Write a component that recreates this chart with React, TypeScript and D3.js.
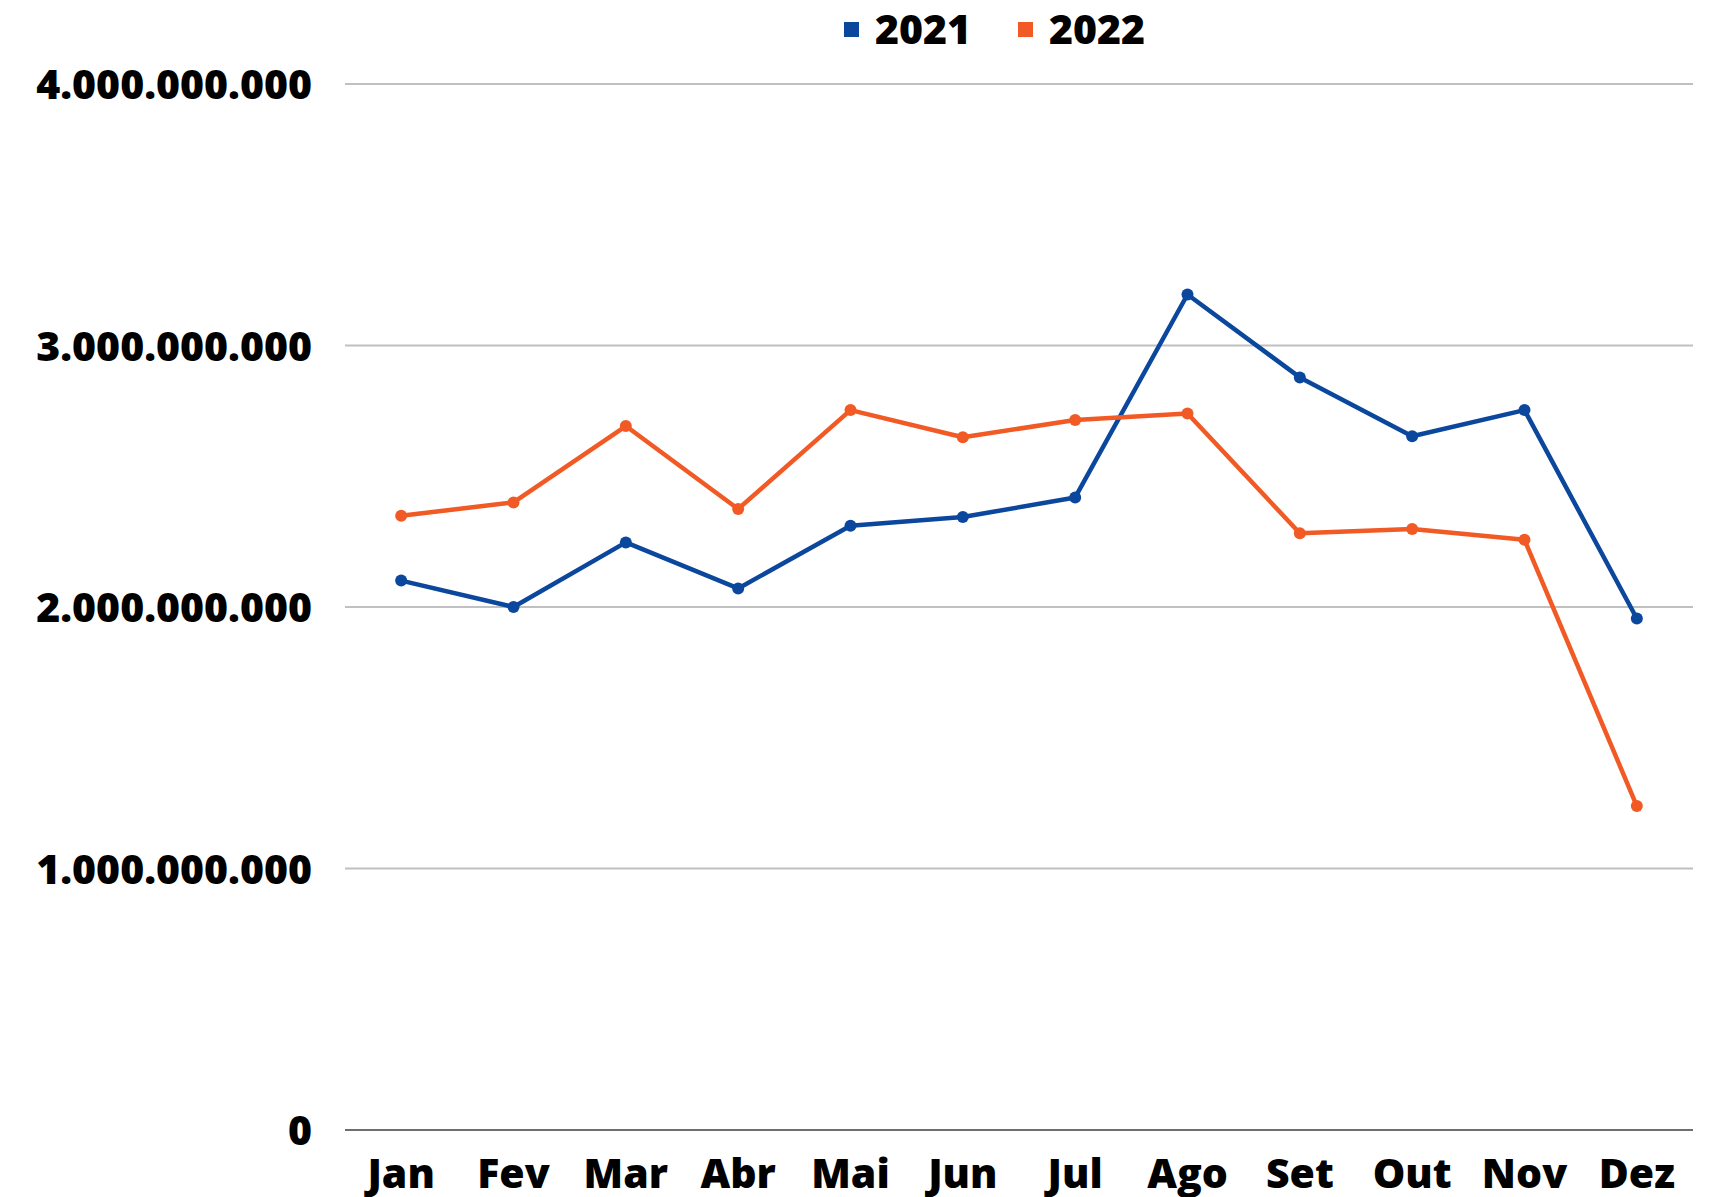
import { useEffect, useRef } from 'react';
import * as d3 from 'd3';

const WIDTH = 1710;
const HEIGHT = 1197;

const months = ['Jan', 'Fev', 'Mar', 'Abr', 'Mai', 'Jun', 'Jul', 'Ago', 'Set', 'Out', 'Nov', 'Dez'];
const values2021 = [2.101, 2.0, 2.247, 2.071, 2.311, 2.344, 2.419, 3.195, 2.878, 2.653, 2.753, 1.956].map((v) => v * 1e9);
const values2022 = [2.349, 2.4, 2.692, 2.375, 2.753, 2.649, 2.715, 2.74, 2.282, 2.298, 2.257, 1.239].map((v) => v * 1e9);
const yTicks = [0, 1e9, 2e9, 3e9, 4e9];

const series = [
  { name: '2021', values: values2021, color: '#0B479D' },
  { name: '2022', values: values2022, color: '#F15A24' },
];

const FONT = '"Open Sans", "Noto Sans", sans-serif';

export default function App() {
  const svgRef = useRef<SVGSVGElement>(null);

  useEffect(() => {
    if (!svgRef.current) return;
    const svg = d3.select(svgRef.current);
    svg.selectAll('*').remove();

    const left = 345;
    const right = 1693;
    const top = 84;
    const bottom = 1130;

    const x = d3.scaleBand<string>().domain(months).range([left, right]);
    const y = d3.scaleLinear().domain([0, 4e9]).range([bottom, top]);
    const fmt = (v: number) => d3.format(',')(v).replace(/,/g, '.');

    // gridlines
    svg.append('g')
      .selectAll('line')
      .data(yTicks)
      .join('line')
      .attr('x1', left)
      .attr('x2', right)
      .attr('y1', (d) => y(d))
      .attr('y2', (d) => y(d))
      .attr('stroke', (d) => (d === 0 ? '#6e6e6e' : '#c0c0c0'))
      .attr('stroke-width', 2);

    // y labels
    svg.append('g')
      .selectAll('text')
      .data(yTicks)
      .join('text')
      .attr('x', 312)
      .attr('y', (d) => y(d))
      .attr('dy', '0.37em')
      .attr('text-anchor', 'end')
      .attr('font-family', FONT)
      .attr('font-weight', 800)
      .attr('font-size', 41)
      .attr('fill', '#000')
      .text((d) => fmt(d));

    // x labels
    svg.append('g')
      .selectAll('text')
      .data(months)
      .join('text')
      .attr('x', (d) => (x(d) as number) + x.bandwidth() / 2)
      .attr('y', 1188)
      .attr('text-anchor', 'middle')
      .attr('font-family', FONT)
      .attr('font-weight', 800)
      .attr('font-size', 41)
      .attr('fill', '#000')
      .text((d) => d);

    const line = d3.line<number>()
      .x((_, i) => (x(months[i]) as number) + x.bandwidth() / 2)
      .y((d) => y(d));

    series.forEach((s) => {
      const g = svg.append('g');
      g.append('path')
        .attr('d', line(s.values) || '')
        .attr('fill', 'none')
        .attr('stroke', s.color)
        .attr('stroke-width', 4.5)
        .attr('stroke-linejoin', 'round');
      g.selectAll('circle')
        .data(s.values)
        .join('circle')
        .attr('cx', (_, i) => (x(months[i]) as number) + x.bandwidth() / 2)
        .attr('cy', (d) => y(d))
        .attr('r', 6)
        .attr('fill', s.color);
    });

    // legend
    const legendX = [844, 1018];
    series.forEach((s, i) => {
      svg.append('rect')
        .attr('x', legendX[i])
        .attr('y', 22)
        .attr('width', 15)
        .attr('height', 15)
        .attr('fill', s.color);
      svg.append('text')
        .attr('x', legendX[i] + 31)
        .attr('y', 44)
        .attr('font-family', FONT)
        .attr('font-weight', 800)
        .attr('font-size', 41)
        .attr('fill', '#000')
        .text(s.name);
    });
  }, []);

  return (
    <svg
      ref={svgRef}
      width={WIDTH}
      height={HEIGHT}
      viewBox={`0 0 ${WIDTH} ${HEIGHT}`}
      style={{ position: 'absolute', left: 0, top: 0, background: '#fff' }}
    />
  );
}
